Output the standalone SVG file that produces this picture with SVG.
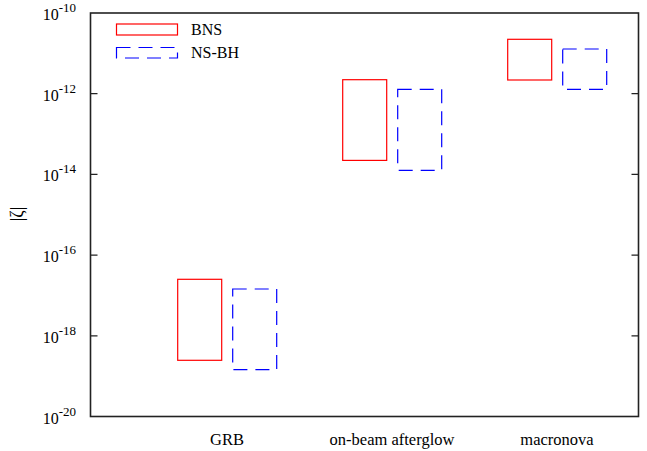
<svg xmlns="http://www.w3.org/2000/svg" width="647" height="451" viewBox="0 0 647 451">
<style>
text{font-family:"Liberation Serif","Times New Roman",serif;font-size:16px;fill:#000}
.sup{font-size:13px}
.axis{fill:none;stroke:#222;stroke-width:1.6}
.tick{stroke:#222;stroke-width:1.2}
.bns{fill:none;stroke:#f00;stroke-width:1.2}
.nsbh{fill:none;stroke:#00f;stroke-width:1.2;stroke-dasharray:14,8}
.xl{text-anchor:middle;font-size:16.5px}
</style>
<rect width="647" height="451" fill="#fff"/>
<g id="axes">
<rect class="axis" x="90.5" y="13" width="548" height="403.5"/>
<g id="ticks">
<path class="tick" d="M90.5 93.7h7M90.5 174.4h7M90.5 255.1h7M90.5 335.8h7M638.5 93.7h-7M638.5 174.4h-7M638.5 255.1h-7M638.5 335.8h-7"/>
</g>
<g id="ylabels" text-anchor="end">
<text x="76" y="20">10<tspan class="sup" dy="-8">-10</tspan></text>
<text x="76" y="100.5">10<tspan class="sup" dy="-8">-12</tspan></text>
<text x="76" y="181">10<tspan class="sup" dy="-8">-14</tspan></text>
<text x="76" y="262">10<tspan class="sup" dy="-8">-16</tspan></text>
<text x="76" y="342.5">10<tspan class="sup" dy="-8">-18</tspan></text>
<text x="76" y="423.5">10<tspan class="sup" dy="-8">-20</tspan></text>
</g>
<text id="ytitle" transform="translate(23,214) rotate(-90)" text-anchor="middle" style="font-size:18px">|ζ|</text>
<g id="xlabels">
<text class="xl" x="227" y="445">GRB</text>
<text class="xl" x="392" y="445">on-beam afterglow</text>
<text class="xl" x="557" y="445">macronova</text>
</g>
</g>
<g id="legend">
<g id="legend-bns"><rect class="bns" x="116.5" y="24" width="61" height="11"/><text x="191" y="35">BNS</text></g>
<g id="legend-nsbh"><rect class="nsbh" x="116.5" y="47.5" width="61" height="10.5"/><text x="191" y="58">NS-BH</text></g>
</g>
<g id="grb-bns"><rect class="bns" x="177.7" y="279.3" width="44" height="81"/></g>
<g id="grb-nsbh"><rect class="nsbh" x="232.7" y="289" width="44" height="80.7"/></g>
<g id="afterglow-bns"><rect class="bns" x="342.7" y="79.7" width="44" height="80.7"/></g>
<g id="afterglow-nsbh"><rect class="nsbh" x="397.7" y="89.3" width="44" height="81"/></g>
<g id="macronova-bns"><rect class="bns" x="507.7" y="39.3" width="44" height="40.7"/></g>
<g id="macronova-nsbh"><rect class="nsbh" x="562.7" y="49" width="44" height="40.3"/></g>
</svg>
